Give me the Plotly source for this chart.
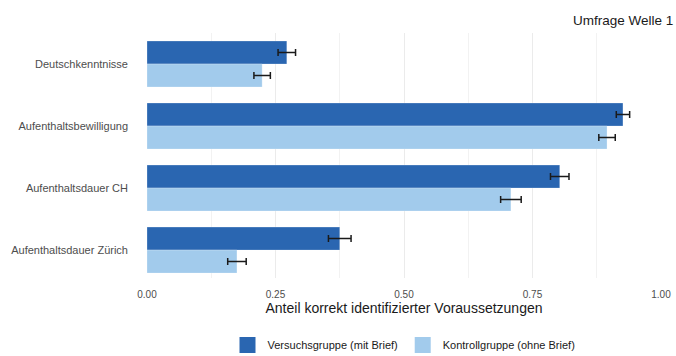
import plotly.graph_objects as go

categories = ["Deutschkenntnisse", "Aufenthaltsbewilligung", "Aufenthaltsdauer CH", "Aufenthaltsdauer Zürich"]
versuch = [0.272, 0.926, 0.803, 0.375]
versuch_err = [0.017, 0.013, 0.018, 0.022]
kontroll = [0.224, 0.895, 0.708, 0.175]
kontroll_err = [0.016, 0.016, 0.020, 0.018]
tick_vals = [0, 0.25, 0.5, 0.75, 1.0]
tick_text = ["0.00", "0.25", "0.50", "0.75", "1.00"]

dark = "#2A66B1"
light = "#A2CBEC"
font = "Liberation Sans, Arial, sans-serif"

fig = go.Figure()
for name, vals, errs, col in [("Versuchsgruppe (mit Brief)", versuch, versuch_err, dark),
                              ("Kontrollgruppe (ohne Brief)", kontroll, kontroll_err, light)]:
    fig.add_trace(go.Bar(
        y=categories, x=vals, orientation="h", name=name,
        marker=dict(color=col, line=dict(color="rgba(255,255,255,0.5)", width=0.5)),
        error_x=dict(type="data", array=errs, color="#1a1a1a", thickness=1.5, width=3.5),
        showlegend=False,
    ))
    fig.add_trace(go.Scatter(
        x=[None], y=[None], mode="markers", name=name,
        marker=dict(symbol="square", size=20, color=col),
        showlegend=True,
    ))

fig.update_layout(
    width=676, height=356,
    margin=dict(l=147, r=15, t=33, b=78, autoexpand=False),
    paper_bgcolor="white", plot_bgcolor="white",
    barmode="group", bargap=0.258, bargroupgap=0,
    font=dict(family=font, size=11, color="#4d4d4d"),
    title=dict(text="Umfrage Welle 1", x=0.996, xanchor="right", xref="container",
               y=1 - 20 / 356, yanchor="middle", yref="container",
               font=dict(family=font, size=13.5, color="#1a1a1a")),
    legend=dict(orientation="h", x=0.5, xanchor="center", y=(278 - 345) / 245, yanchor="middle",
                font=dict(family=font, size=11, color="#1a1a1a"),
                itemsizing="trace"),
    xaxis=dict(range=[0, 1.0], tickvals=tick_vals, ticktext=tick_text,
               showgrid=True, gridcolor="#ebebeb", gridwidth=1, zeroline=False,
               showline=False, ticks="", ticklabelstandoff=9,
               minor=dict(dtick=0.125, showgrid=True, gridcolor="#f2f2f2", gridwidth=1),
               tickfont=dict(size=10, color="#4d4d4d"),
               title=dict(text="Anteil korrekt identifizierter Voraussetzungen",
                          font=dict(family=font, size=14, color="#1a1a1a"), standoff=2)),
    yaxis=dict(range=[3.45, -0.5], showgrid=False, zeroline=False, ticks="",
               ticklabelstandoff=18,
               tickfont=dict(size=11, color="#4d4d4d")),
)

fig.write_html("out.html")
